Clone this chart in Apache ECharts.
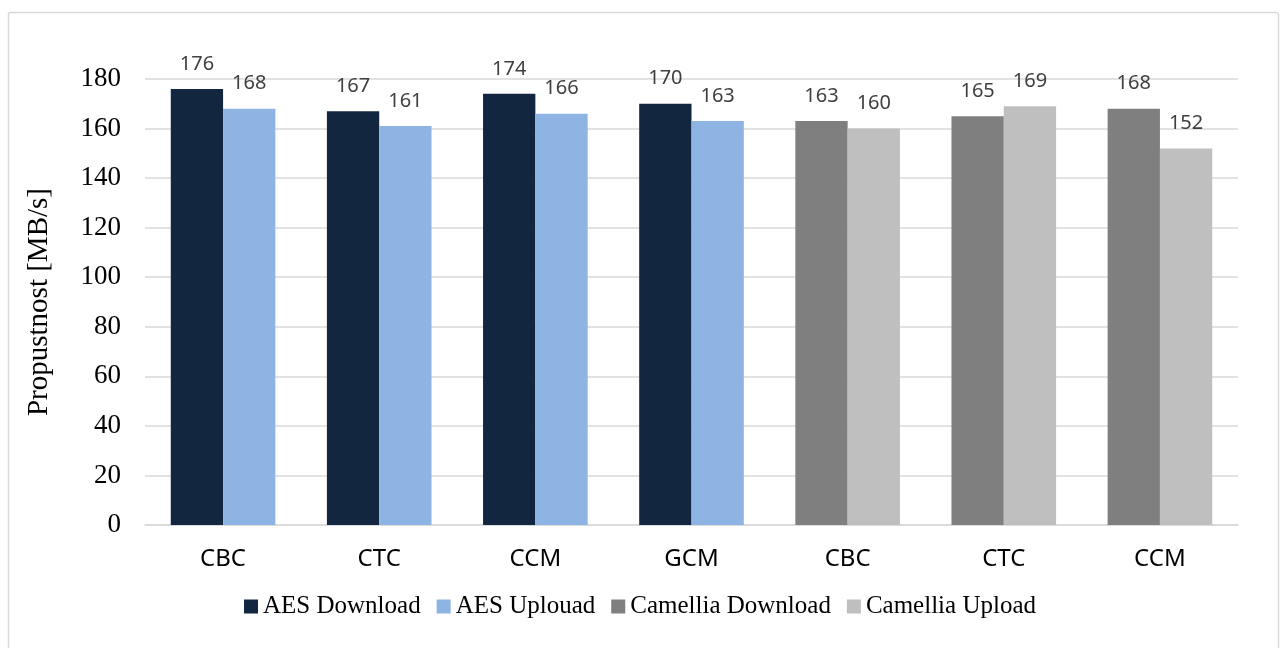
<!DOCTYPE html>
<html>
<head>
<meta charset="utf-8">
<title>Propustnost</title>
<script src="https://cdn.jsdelivr.net/npm/echarts@6/dist/echarts.min.js"></script>
<style>
  html, body { margin: 0; padding: 0; background: #ffffff; }
  #chart { width: 1280px; height: 648px; }
</style>
</head>
<body>
<div id="chart"></div>
<script>
// Cipher modes on the x axis (AES modes first, then Camellia modes)
const categories = ['CBC', 'CTC', 'CCM', 'GCM', 'CBC', 'CTC', 'CCM'];

// Throughput in MB/s; null where the cipher has no such mode
const aesDownload      = [176, 167, 174, 170, null, null, null];
const aesUpload        = [168, 161, 166, 163, null, null, null];
const camelliaDownload = [null, null, null, null, 163, 165, 168];
const camelliaUpload   = [null, null, null, null, 160, 169, 152];

const seriesNames = ['AES Download', 'AES Uplouad', 'Camellia Download', 'Camellia Upload'];
const seriesColors = ['#12263f', '#8eb4e3', '#7f7f7f', '#bfbfbf'];

const chart = echarts.init(document.getElementById('chart'), null, { renderer: 'canvas' });

const valueLabel = {
  show: true,
  position: 'top',
  distance: 15,
  fontFamily: 'Noto Sans',
  fontSize: 20,
  color: '#404040'
};

// Download bars share one slot, upload bars the other, so each mode shows a pair
function barSeries(name, data, color, slot) {
  return {
    name: name,
    type: 'bar',
    stack: slot,
    data: data,
    itemStyle: { color: color },
    label: valueLabel,
    barGap: '0%',
    barCategoryGap: '33%',
    emphasis: { disabled: true }
  };
}

chart.setOption({
  animation: false,
  backgroundColor: '#ffffff',
  graphic: [{
    type: 'rect',
    shape: { x: 8.5, y: 12.5, width: 1270, height: 700, r: 2 },
    style: { fill: 'none', stroke: '#d9d9d9', lineWidth: 1.5 },
    silent: true,
    z: -1
  }],
  grid: { left: 145, right: 42, top: 79, bottom: 123, containLabel: false },
  legend: {
    data: seriesNames,
    left: 'center',
    top: 589,
    itemWidth: 14,
    itemHeight: 14,
    itemGap: 16,
    icon: 'rect',
    textStyle: { fontFamily: 'Liberation Serif', fontSize: 25, color: '#000000' }
  },
  xAxis: {
    type: 'category',
    data: categories,
    axisLine: { show: true, lineStyle: { color: '#d9d9d9', width: 1.5 } },
    axisTick: { show: false },
    axisLabel: {
      fontFamily: 'Noto Sans',
      fontSize: 24,
      color: '#000000',
      margin: 22
    }
  },
  yAxis: {
    type: 'value',
    min: 0,
    max: 180,
    interval: 20,
    name: 'Propustnost [MB/s]',
    nameLocation: 'middle',
    nameGap: 91,
    nameTextStyle: { fontFamily: 'Liberation Serif', fontSize: 29, color: '#000000' },
    axisLine: { show: false },
    axisTick: { show: false },
    splitLine: { lineStyle: { color: '#d9d9d9', width: 1.5 } },
    axisLabel: {
      fontFamily: 'Liberation Serif',
      fontSize: 27,
      color: '#000000',
      margin: 24
    }
  },
  series: [
    barSeries(seriesNames[0], aesDownload, seriesColors[0], 'download'),
    barSeries(seriesNames[1], aesUpload, seriesColors[1], 'upload'),
    barSeries(seriesNames[2], camelliaDownload, seriesColors[2], 'download'),
    barSeries(seriesNames[3], camelliaUpload, seriesColors[3], 'upload')
  ]
});
</script>
</body>
</html>
